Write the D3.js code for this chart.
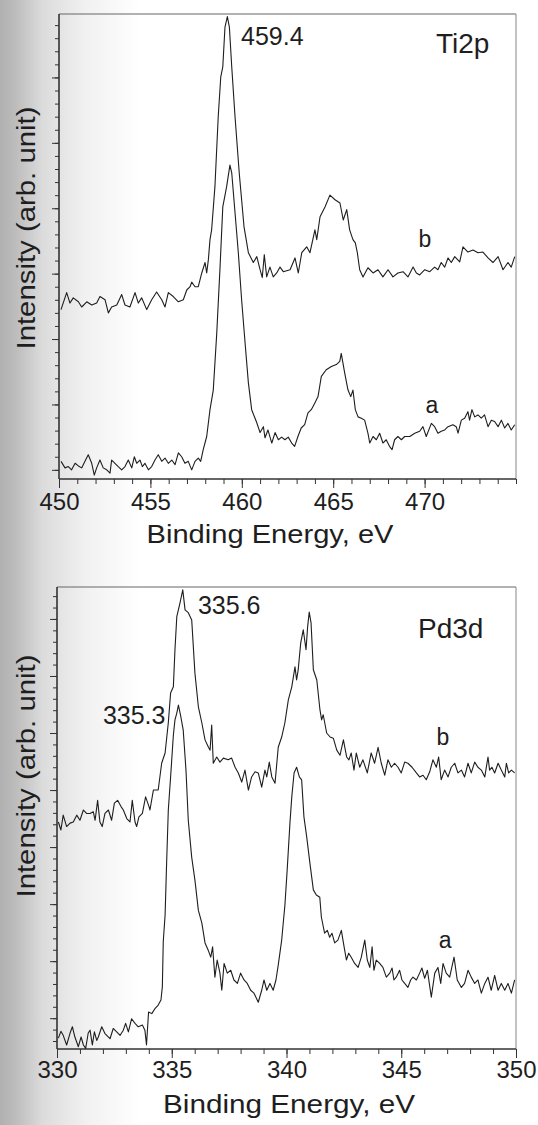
<!DOCTYPE html>
<html>
<head>
<meta charset="utf-8">
<script src="https://cdn.jsdelivr.net/npm/d3@7"></script>
<style>
  html, body { margin: 0; padding: 0; background: #fff; }
  svg { display: block; }
</style>
</head>
<body>
<div id="root"></div>
<script>
// XPS spectra (intensity in arbitrary units)

// Ti2p, sample b (upper trace)
const tiEnergyB = [450.11,450.42,450.60,450.78,451.06,451.24,451.52,451.79,452.06,452.24,452.52,452.70,452.88,453.16,453.43,453.61,453.88,454.16,454.34,454.52,454.80,455.07,455.34,455.62,455.80,455.98,456.25,456.53,456.80,456.99,457.17,457.26,457.44,457.62,457.81,457.99,458.08,458.17,458.26,458.35,458.53,458.71,458.85,458.96,459.08,459.21,459.32,459.45,459.63,459.86,460.12,460.36,460.63,460.82,461.00,461.12,461.23,461.36,461.54,461.72,461.91,462.09,462.27,462.64,462.91,463.09,463.28,463.55,463.73,464.00,464.10,464.28,464.55,464.82,465.10,465.37,465.55,465.74,465.90,466.08,466.21,466.32,466.45,466.63,466.90,467.18,467.45,467.72,468.00,468.27,468.54,468.82,469.09,469.37,469.55,469.73,470.01,470.28,470.55,470.73,470.91,471.10,471.28,471.46,471.65,471.92,472.10,472.37,472.65,472.92,473.19,473.47,473.74,474.02,474.29,474.56,474.74,474.93];
const tiIntensityB = [24.5,27.1,25.5,26.3,25.7,24.9,25.7,25.2,25.5,26.5,26.0,24.0,24.9,25.2,26.8,25.2,24.9,27.1,25.5,26.3,24.5,26.0,27.2,26.0,24.9,27.1,26.5,25.7,26.0,27.5,28.0,28.7,28.0,28.0,30.1,31.7,30.1,32.1,35.2,36.7,43.3,54.0,60.1,61.6,67.7,69.3,67.7,61.6,54.0,45.4,37.2,33.2,31.7,32.6,30.6,29.4,32.9,29.5,31.0,29.5,30.1,31.0,30.3,30.6,32.4,30.1,33.2,34.1,33.2,36.7,35.2,38.7,40.2,42.0,41.3,40.8,38.2,39.8,36.7,35.2,34.7,33.2,30.6,29.5,30.9,30.1,30.6,29.5,30.6,29.5,30.1,30.3,29.5,31.0,30.1,29.8,30.6,30.3,31.0,30.6,31.7,31.0,32.4,31.7,32.6,31.8,34.1,33.3,33.6,33.2,33.3,32.4,31.7,32.6,30.6,31.7,31.0,32.6];

// Ti2p, sample a (lower trace)
const tiEnergyA = [450.11,450.33,450.51,450.69,450.88,451.06,451.24,451.42,451.60,451.79,451.93,452.06,452.24,452.42,452.61,452.79,452.88,453.06,453.24,453.43,453.61,453.79,453.98,454.12,454.25,454.43,454.56,454.70,454.89,455.07,455.25,455.43,455.62,455.80,455.98,456.17,456.35,456.53,456.71,456.89,457.07,457.26,457.44,457.62,457.75,457.89,458.08,458.26,458.44,458.63,458.81,458.96,459.17,459.35,459.45,459.63,459.81,459.99,460.18,460.36,460.54,460.82,461.00,461.18,461.27,461.43,461.64,461.82,462.00,462.18,462.36,462.54,462.73,462.89,463.07,463.25,463.44,463.62,463.80,463.99,464.17,464.35,464.62,464.90,465.17,465.36,465.44,465.63,465.81,465.96,466.08,466.21,466.36,466.54,466.72,466.90,467.00,467.18,467.36,467.54,467.72,467.90,468.08,468.22,468.36,468.54,468.73,468.91,469.19,469.46,469.73,469.91,470.09,470.37,470.55,470.73,470.91,471.10,471.28,471.55,471.73,471.83,472.01,472.19,472.37,472.46,472.59,472.74,472.92,473.10,473.28,473.47,473.65,473.83,474.02,474.20,474.38,474.56,474.74,474.93];
const tiIntensityA = [1.3,0.3,0.5,0.0,1.0,0.6,0.3,1.3,2.3,1.0,-0.8,0.3,1.5,0.3,0.0,-0.5,1.5,1.0,0.5,0.0,0.5,1.5,0.3,2.0,1.0,1.5,0.5,1.0,0.0,0.5,1.5,2.3,1.3,1.8,1.0,1.5,0.8,2.6,2.0,1.0,1.3,0.0,1.3,1.8,1.3,3.1,5.1,9.2,12.2,20.9,31.0,40.2,43.3,46.6,45.4,39.3,33.2,26.0,19.4,13.3,9.2,7.2,5.7,6.6,4.9,6.1,4.1,5.7,4.6,5.0,4.6,5.0,4.1,3.6,5.1,6.4,6.9,8.7,9.2,10.2,11.2,14.3,15.3,15.8,16.1,16.6,17.8,14.8,12.2,11.2,12.2,9.2,8.1,7.9,7.6,5.6,4.1,5.1,4.6,5.6,4.1,4.6,3.6,3.1,4.6,5.1,4.6,5.1,5.1,5.6,5.9,6.6,5.1,7.1,6.6,5.6,5.9,6.1,6.6,6.9,6.6,5.6,7.6,7.9,8.9,7.6,9.2,8.1,8.4,7.9,8.4,6.6,7.6,7.4,6.6,7.6,6.4,7.1,6.1,6.9];

// Pd3d, sample b (upper trace)
const pdEnergyB = [330.06,330.17,330.27,330.42,330.57,330.71,330.86,331.00,331.15,331.29,331.44,331.58,331.66,331.77,331.87,331.97,332.09,332.24,332.38,332.50,332.64,332.79,332.89,333.04,333.18,333.28,333.40,333.47,333.57,333.72,333.86,334.01,334.05,334.20,334.41,334.56,334.71,334.85,334.95,335.07,335.14,335.22,335.36,335.48,335.58,335.72,335.87,336.01,336.16,336.31,336.45,336.60,336.67,336.74,336.81,336.96,337.10,337.25,337.46,337.61,337.76,337.90,338.05,338.19,338.34,338.48,338.63,338.77,338.92,339.06,339.14,339.25,339.36,339.50,339.64,339.79,339.93,340.08,340.23,340.37,340.44,340.51,340.62,340.73,340.85,340.92,340.99,341.07,341.17,341.32,341.46,341.53,341.60,341.75,341.90,342.04,342.19,342.33,342.48,342.62,342.72,342.82,342.94,343.04,343.19,343.33,343.52,343.69,343.84,343.99,344.13,344.28,344.42,344.57,344.71,344.86,345.00,345.15,345.29,345.47,345.66,345.80,345.95,346.09,346.24,346.38,346.53,346.63,346.74,346.89,347.04,347.18,347.33,347.47,347.62,347.76,347.91,348.05,348.20,348.34,348.49,348.64,348.78,348.85,348.95,349.07,349.22,349.36,349.51,349.58,349.68,349.80,349.94];
const pdIntensityB = [34.4,33.0,35.6,33.6,34.2,34.4,35.6,34.7,36.5,35.9,35.9,36.2,34.7,38.2,34.4,33.6,35.9,36.5,34.7,37.7,38.2,37.1,36.5,35.0,34.4,38.2,34.4,33.6,35.3,35.9,38.8,37.1,36.5,40.0,40.0,44.7,46.5,51.8,57.0,58.1,64.6,70.4,72.8,75.1,71.6,71.1,69.8,60.5,54.6,51.8,48.8,47.5,47.0,51.4,44.7,45.8,44.9,45.6,45.3,45.6,44.0,43.0,41.4,43.5,40.0,42.3,43.2,43.0,40.5,43.5,42.3,44.9,42.3,41.2,47.5,49.3,51.8,55.8,58.1,61.6,59.3,61.1,65.8,68.1,64.6,68.6,71.2,69.3,61.1,59.3,54.0,52.3,53.2,50.0,49.3,49.1,47.0,46.1,48.8,45.8,45.3,46.5,43.5,46.5,44.0,45.3,43.0,46.5,44.7,47.5,44.7,42.6,45.3,44.0,44.7,44.0,43.0,44.9,44.7,44.0,43.0,42.3,42.6,41.8,43.2,45.3,44.0,45.8,41.8,43.5,42.3,44.0,44.7,43.0,43.5,42.3,44.7,43.0,44.9,44.0,43.5,42.3,45.8,43.5,44.0,43.0,44.7,43.5,42.3,44.7,43.0,43.5,43.0];

// Pd3d, sample a (lower trace)
const pdEnergyA = [330.06,330.17,330.27,330.42,330.57,330.67,330.78,330.93,331.05,331.15,331.25,331.36,331.44,331.54,331.63,331.73,331.80,331.95,332.09,332.31,332.45,332.60,332.75,332.89,332.99,333.11,333.25,333.40,333.54,333.72,333.83,333.90,333.99,334.13,334.27,334.41,334.53,334.59,334.63,334.71,334.78,334.85,334.95,335.07,335.14,335.22,335.29,335.38,335.50,335.62,335.72,335.87,336.01,336.16,336.31,336.45,336.59,336.70,336.78,336.88,336.98,337.10,337.18,337.28,337.42,337.57,337.71,337.86,338.00,338.15,338.29,338.44,338.58,338.77,338.92,339.02,339.14,339.28,339.42,339.54,339.64,339.79,339.93,340.03,340.15,340.23,340.33,340.44,340.56,340.66,340.76,340.88,341.02,341.17,341.30,341.45,341.52,341.66,341.78,341.88,341.98,342.10,342.24,342.39,342.51,342.61,342.71,342.82,342.97,343.12,343.26,343.41,343.52,343.63,343.73,343.81,343.91,344.06,344.20,344.35,344.50,344.60,344.68,344.78,344.93,345.03,345.15,345.29,345.41,345.51,345.66,345.80,345.90,346.02,346.14,346.31,346.46,346.60,346.72,346.82,346.96,347.11,347.30,347.44,347.62,347.76,347.91,348.05,348.20,348.34,348.49,348.64,348.78,348.92,349.07,349.22,349.36,349.51,349.65,349.80,349.94];
const pdIntensityA = [-3.5,-2.3,-3.0,-4.7,-2.6,-1.5,-3.3,-5.0,-3.3,-4.7,-5.3,-2.6,-2.1,-4.7,-2.4,-3.9,-3.3,-1.5,-2.7,-3.6,-1.8,-2.4,-3.0,-2.1,-0.9,-2.4,-0.1,-0.9,-1.5,-1.2,-2.1,-4.7,1.1,0.8,1.7,2.3,3.2,5.5,13.4,18.1,27.7,36.5,42.3,49.6,52.3,53.5,54.9,53.2,50.5,43.5,34.7,28.2,24.2,18.9,16.7,13.2,11.9,10.7,12.5,7.2,10.2,7.9,4.9,9.6,7.9,8.4,6.7,6.1,7.9,6.7,6.1,4.9,4.4,2.8,4.9,6.7,4.9,6.1,4.9,6.7,9.3,13.7,19.8,26.0,34.2,38.8,43.0,44.0,42.3,41.8,35.3,31.8,27.2,22.5,21.6,21.2,17.7,14.9,15.4,14.2,14.9,13.2,13.7,15.4,12.5,10.2,11.4,10.7,9.6,8.9,10.7,13.7,10.2,8.9,12.5,8.4,10.2,9.6,8.9,7.2,7.9,8.8,6.7,7.2,8.4,6.7,6.1,5.4,6.7,7.2,6.7,7.9,8.8,7.0,8.4,3.7,7.9,8.9,6.1,9.6,7.9,7.2,10.7,6.7,5.4,6.1,8.4,7.2,6.1,6.7,4.4,6.1,7.2,4.9,7.5,4.9,6.1,4.9,6.1,4.4,6.7];

// axis ticks
const tiTickLabels = [450, 455, 460, 465, 470];
const pdTickLabels = [330, 335, 340, 345, 350];

const FONT = '"Liberation Sans", Arial, Helvetica, sans-serif';
const INK = "#1e1e1e";
const width = 538;
const height = 1125;

const svg = d3.select("#root").append("svg")
  .attr("width", width)
  .attr("height", height)
  .attr("font-family", FONT);

// grey scanner shading along the left edge
const grad = svg.append("defs").append("linearGradient")
  .attr("id", "scan").attr("x1", 0).attr("x2", 1).attr("y1", 0).attr("y2", 0);
[[0, "#b0b0b0"], [0.03, "#bdbdbd"], [0.08, "#dcdcdc"], [0.16, "#f1f1f1"], [0.26, "#ffffff"]]
  .forEach(s => grad.append("stop").attr("offset", s[0]).attr("stop-color", s[1]));
svg.append("rect").attr("width", width).attr("height", height).attr("fill", "url(#scan)");

function drawPanel(cfg) {
  const x = d3.scaleLinear().domain(cfg.xDomain).range([cfg.left, cfg.right]);
  const y = d3.scaleLinear().domain(cfg.yDomain).range([cfg.bottom, cfg.top]);
  const g = svg.append("g");

  // x axis: minor ticks every 1 eV, labelled ticks every 5 eV
  g.append("g")
    .attr("transform", `translate(0,${cfg.bottom})`)
    .call(d3.axisBottom(x).tickValues(cfg.xMinor).tickSize(5).tickSizeOuter(0).tickFormat(""))
    .attr("color", "#333")
    .call(a => a.select(".domain").remove());
  g.append("g")
    .attr("transform", `translate(0,${cfg.bottom})`)
    .call(d3.axisBottom(x).tickValues(cfg.xMajor).tickSize(9).tickSizeOuter(0).tickPadding(cfg.tickPad).tickFormat(d3.format("d")))
    .attr("font-family", FONT)
    .attr("font-size", 24)
    .attr("color", "#333")
    .call(a => a.select(".domain").remove())
    .call(a => a.selectAll("text").attr("fill", INK));

  // y axis: unlabelled ticks only
  g.append("g")
    .attr("transform", `translate(${cfg.left},0)`)
    .call(d3.axisLeft(y).tickValues(cfg.yMinor).tickSize(4).tickSizeOuter(0).tickFormat(""))
    .attr("color", "#333")
    .call(a => a.select(".domain").remove());
  g.append("g")
    .attr("transform", `translate(${cfg.left},0)`)
    .call(d3.axisLeft(y).tickValues(cfg.yMajor).tickSize(7).tickSizeOuter(0).tickFormat(""))
    .attr("color", "#333")
    .call(a => a.select(".domain").remove());

  // frame: heavy left/bottom, light top/right
  g.append("line").attr("x1", cfg.left).attr("x2", cfg.right).attr("y1", cfg.top).attr("y2", cfg.top)
    .attr("stroke", "#666").attr("stroke-width", 1.2);
  g.append("line").attr("x1", cfg.right).attr("x2", cfg.right).attr("y1", cfg.top).attr("y2", cfg.bottom)
    .attr("stroke", "#888").attr("stroke-width", 1);
  g.append("line").attr("x1", cfg.left).attr("x2", cfg.left).attr("y1", cfg.top).attr("y2", cfg.bottom)
    .attr("stroke", "#333").attr("stroke-width", 1.6);
  g.append("line").attr("x1", cfg.left).attr("x2", cfg.right).attr("y1", cfg.bottom).attr("y2", cfg.bottom)
    .attr("stroke", "#333").attr("stroke-width", 1.6);

  // spectra
  const line = d3.line().x(d => x(d[0])).y(d => y(d[1]));
  cfg.series.forEach(s => {
    g.append("path")
      .datum(d3.zip(s.energy, s.intensity))
      .attr("fill", "none")
      .attr("stroke", INK)
      .attr("stroke-width", 1.1)
      .attr("stroke-linejoin", "round")
      .attr("d", line);
  });

  // annotations (placed in data units)
  cfg.notes.forEach(n => {
    g.append("text")
      .attr("x", x(n.e)).attr("y", y(n.v))
      .attr("font-size", n.size)
      .attr("text-anchor", n.anchor || "start")
      .attr("fill", INK)
      .text(n.text);
  });

  // axis titles
  g.append("text")
    .attr("x", cfg.xTitle.cx).attr("y", cfg.xTitle.y)
    .attr("text-anchor", "middle")
    .attr("font-size", 25)
    .attr("fill", INK)
    .attr("textLength", cfg.xTitle.len).attr("lengthAdjust", "spacingAndGlyphs")
    .text("Binding Energy, eV");
  g.append("text")
    .attr("transform", `translate(35,${cfg.yTitleCy}) rotate(-90)`)
    .attr("text-anchor", "middle")
    .attr("font-size", 26)
    .attr("fill", INK)
    .attr("textLength", 243).attr("lengthAdjust", "spacingAndGlyphs")
    .text("Intensity (arb. unit)");
}

drawPanel({
  left: 59, right: 516, top: 14, bottom: 479,
  xDomain: [450, 475], yDomain: [-1.4, 69.7],
  xMajor: tiTickLabels, xMinor: d3.range(450, 475.5, 1),
  yMajor: d3.range(0, 61, 10), yMinor: d3.range(0, 69, 2),
  tickPad: 5,
  series: [
    { energy: tiEnergyB, intensity: tiIntensityB },
    { energy: tiEnergyA, intensity: tiIntensityA }
  ],
  notes: [
    { text: "459.4", e: 459.96, v: 65.0, size: 25 },
    { text: "Ti2p", e: 470.62, v: 63.8, size: 28 },
    { text: "b", e: 470.02, v: 34.1, size: 23, anchor: "middle" },
    { text: "a", e: 470.40, v: 8.7, size: 23, anchor: "middle" }
  ],
  xTitle: { cx: 270, y: 543, len: 247 },
  yTitleCy: 228
});

drawPanel({
  left: 57, right: 516, top: 587, bottom: 1049,
  xDomain: [330, 350], yDomain: [-5.4, 75.6],
  xMajor: pdTickLabels, xMinor: d3.range(330, 350.5, 1),
  yMajor: d3.range(0, 71, 10), yMinor: d3.range(-4, 76, 2),
  tickPad: 3,
  series: [
    { energy: pdEnergyB, intensity: pdIntensityB },
    { energy: pdEnergyA, intensity: pdIntensityA }
  ],
  notes: [
    { text: "335.6", e: 336.14, v: 70.9, size: 25 },
    { text: "335.3", e: 332.00, v: 51.6, size: 25 },
    { text: "Pd3d", e: 345.73, v: 66.7, size: 28 },
    { text: "b", e: 346.82, v: 47.9, size: 23, anchor: "middle" },
    { text: "a", e: 346.91, v: 12.3, size: 23, anchor: "middle" }
  ],
  xTitle: { cx: 289, y: 1113, len: 252 },
  yTitleCy: 776
});
</script>
</body>
</html>
